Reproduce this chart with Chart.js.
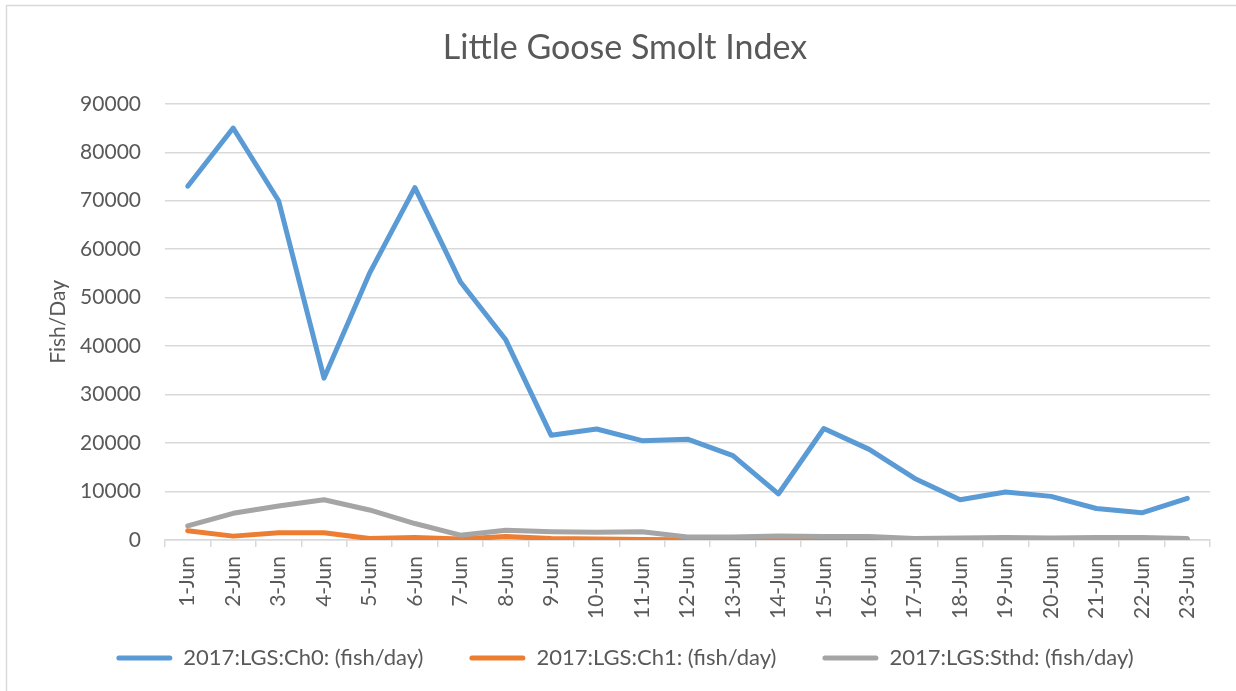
<!DOCTYPE html>
<html>
<head>
<meta charset="utf-8">
<script src="https://cdn.jsdelivr.net/npm/chart.js@4/dist/chart.umd.min.js"></script>
<style>
  html, body { margin: 0; padding: 0; background: #fff; }
  #wrap { width: 1236px; height: 691px; }
</style>
</head>
<body>
<div id="wrap"><canvas id="smoltChart" width="1236" height="691"></canvas></div>
<script>
const days = ['1-Jun', '2-Jun', '3-Jun', '4-Jun', '5-Jun', '6-Jun', '7-Jun', '8-Jun', '9-Jun', '10-Jun',
    '11-Jun', '12-Jun', '13-Jun', '14-Jun', '15-Jun', '16-Jun', '17-Jun', '18-Jun', '19-Jun', '20-Jun',
    '21-Jun', '22-Jun', '23-Jun'];

const ch0 = [73000, 85000, 70000, 33400, 55000, 72700, 53300, 41300, 21600, 22900,
    20500, 20800, 17400, 9500, 23000, 18700, 12700, 8300, 9900, 9000,
    6500, 5600, 8600];

const ch1 = [1900, 800, 1500, 1500, 300, 500, 200, 700, 300, 200,
    100, 50, 50, 50, 50, 50, 50, 50, 50, 50,
    50, 50, 50];

const sthd = [2900, 5500, 7000, 8300, 6200, 3400, 1000, 2000, 1700, 1600,
    1700, 600, 600, 800, 700, 700, 300, 400, 500, 400,
    500, 500, 300];

const yTicks = [0, 10000, 20000, 30000, 40000, 50000, 60000, 70000, 80000, 90000];

const seriesNames = ['2017:LGS:Ch0: (fish/day)', '2017:LGS:Ch1: (fish/day)', '2017:LGS:Sthd: (fish/day)'];
const seriesColors = ['#5b9bd5', '#ed7d31', '#a5a5a5'];

const textColor = '#595959';
const gridColor = '#d9d9d9';
const fontFamily = 'Lato, "Open Sans", sans-serif';

// frame round the whole chart, like the office chart border
const framePlugin = {
    id: 'frame',
    beforeDraw(chart) {
        const ctx = chart.ctx;
        ctx.save();
        ctx.strokeStyle = gridColor;
        ctx.lineWidth = 1.5;
        ctx.strokeRect(6.5, 5.5, 1400, 900);
        ctx.restore();
    }
};

function makeSet(i, values, order) {
    return {
        label: seriesNames[i],
        data: values,
        borderColor: seriesColors[i],
        backgroundColor: seriesColors[i],
        borderWidth: 5,
        borderCapStyle: 'round',
        borderJoinStyle: 'round',
        pointRadius: 0,
        pointHoverRadius: 0,
        tension: 0,
        order: order
    };
}

new Chart(document.getElementById('smoltChart'), {
    type: 'line',
    data: {
        labels: days,
        datasets: [
            makeSet(0, ch0, 3),
            makeSet(1, ch1, 2),
            makeSet(2, sthd, 1)
        ]
    },
    options: {
        responsive: false,
        animation: false,
        layout: {
            padding: { left: 40, right: 26, top: 10, bottom: 12 }
        },
        scales: {
            x: {
                offset: true,
                grid: {
                    offset: true,
                    drawOnChartArea: false,
                    drawTicks: true,
                    tickLength: 7,
                    color: gridColor,
                    lineWidth: 1.5
                },
                border: { color: gridColor, width: 1.5 },
                ticks: {
                    autoSkip: false,
                    minRotation: 90,
                    maxRotation: 90,
                    padding: 9,
                    color: textColor,
                    font: { family: fontFamily, size: 21 }
                },
                afterFit(scale) {
                    // short box so the legend can sit lower; labels run past it
                    scale.height = 61;
                    scale._computeLabelArea = () => undefined;
                }
            },
            y: {
                min: 0,
                max: 90000,
                afterBuildTicks(scale) {
                    scale.ticks = yTicks.map(v => ({ value: v }));
                },
                grid: {
                    drawTicks: false,
                    color: gridColor,
                    lineWidth: 1.5
                },
                border: { display: false },
                ticks: {
                    padding: 24,
                    color: textColor,
                    font: { family: fontFamily, size: 21 },
                    callback: v => String(v)
                },
                title: {
                    display: true,
                    text: 'Fish/Day',
                    color: textColor,
                    padding: { top: 6, bottom: 0 },
                    font: { family: fontFamily, size: 21 }
                },
                afterFit(scale) { scale.width = 125; }
            }
        },
        plugins: {
            title: {
                display: true,
                text: 'Little Goose Smolt Index',
                color: textColor,
                padding: { top: 18, bottom: 35 },
                font: { family: fontFamily, size: 34, weight: 'normal' }
            },
            legend: {
                position: 'bottom',
                labels: {
                    boxWidth: 56,
                    boxHeight: 5,
                    useBorderRadius: true,
                    borderRadius: 2.5,
                    padding: 46,
                    color: textColor,
                    font: { family: fontFamily, size: 22 },
                    sort: (a, b) => a.datasetIndex - b.datasetIndex,
                    generateLabels(chart) {
                        return Chart.defaults.plugins.legend.labels.generateLabels(chart)
                            .map(l => Object.assign(l, { lineWidth: 0 }));
                    }
                }
            },
            tooltip: { enabled: false }
        }
    },
    plugins: [framePlugin]
});
</script>
</body>
</html>
